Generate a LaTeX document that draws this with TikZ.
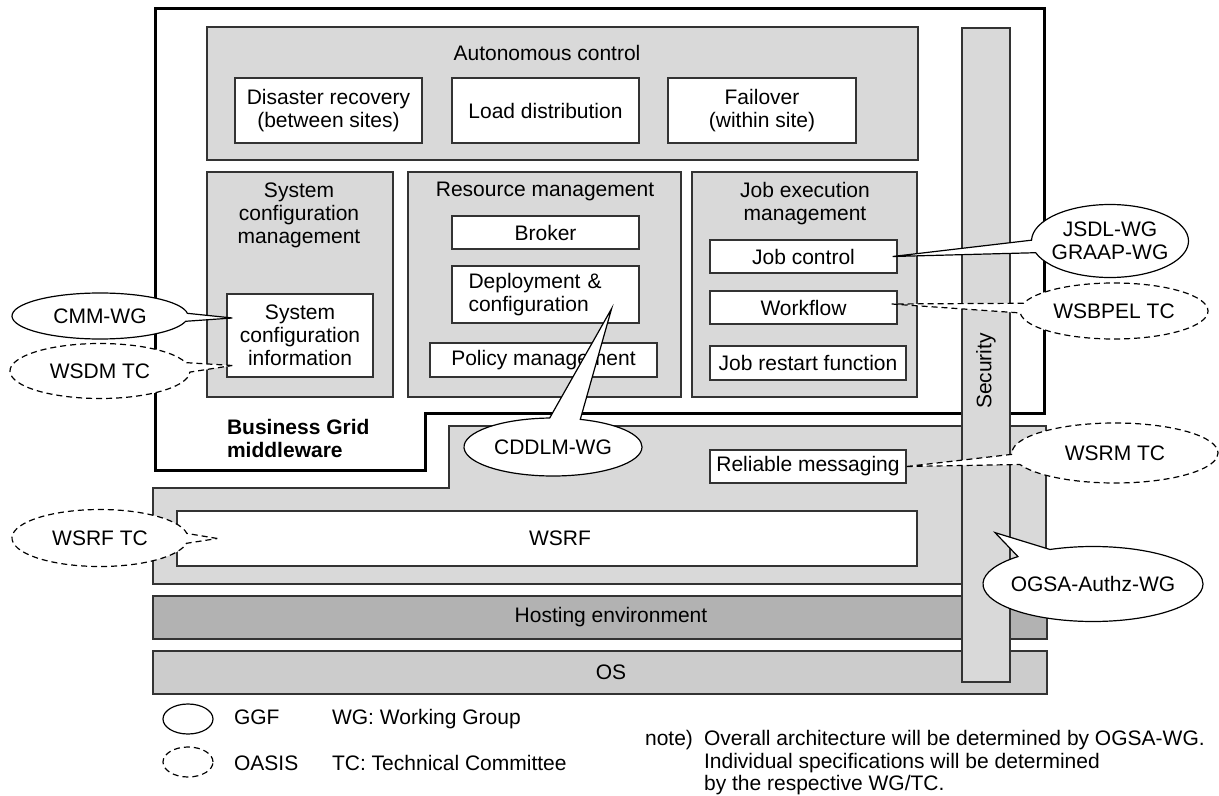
\documentclass[tikz,border=0pt]{standalone}
\usepackage{fontspec}
\setmainfont{Liberation Sans}
\usetikzlibrary{shapes.geometric,shapes.callouts}

\begin{document}
\begin{tikzpicture}[x=0.5pt, y=-0.5pt, font=\fontsize{10.5pt}{11.5pt}\selectfont,
    outline/.style={draw=black!80, line width=0.6pt},
    graybox/.style={outline, fill=black!15, inner sep=0pt},
    whitebox/.style={outline, fill=white, inner sep=0pt, align=center},
    ggf/.style={ellipse callout, outline, draw=black, fill=white, inner sep=0pt, callout pointer arc=20},
    oasis/.style={ggf, dash pattern=on 3pt off 2pt}]
    \useasboundingbox (0,0) rectangle (1219,796);
    \draw[graybox] (153,488) -- (449,488) -- (449,426) -- (1046,426) -- (1046,584) -- (153,584) -- cycle;
    \draw[line width=1.5pt] (155,9) -- (1044,9) -- (1044,413) -- (425,413) -- (425,470) -- (155,470) -- cycle;
    \node[graybox, minimum width=355.5pt, minimum height=66.5pt] (auto) at (562.5,93.5) {};
    \node (autotitle) at (547,53) {Autonomous control};
    \node[whitebox, minimum width=93.5pt, minimum height=32.5pt] (disaster) at (328.5,110.5) {Disaster recovery\\(between sites)};
    \node[whitebox, minimum width=93.5pt, minimum height=32.5pt] (load) at (545.5,110.5) {Load distribution};
    \node[whitebox, minimum width=94pt, minimum height=32.5pt] (failover) at (762,110.5) {Failover\\(within site)};
    \node[graybox, minimum width=93pt, minimum height=112.5pt] (sysmgmt) at (300,284.5) {};
    \node[align=center] (systitle) at (299,215) {System\\configuration\\management};
    \node[graybox, minimum width=136.5pt, minimum height=112.5pt] (resmgmt) at (544.5,284.5) {};
    \node (restitle) at (545,191) {Resource management};
    \node[graybox, minimum width=112.5pt, minimum height=112.5pt] (jobmgmt) at (804.5,284.5) {};
    \node[align=center] (jobtitle) at (805,203.5) {Job execution\\management};
    \node[whitebox, minimum width=73pt, minimum height=41.5pt] (sysinfo) at (300,335.5) {System\\configuration\\information};
    \node[whitebox, minimum width=93.5pt, minimum height=16.5pt] (broker) at (545.5,232.5) {Broker};
    \node[whitebox, minimum width=93.5pt, minimum height=28.5pt, text width=77pt, align=left] (deploy) at (545.5,294.5) {Deployment \&\\configuration};
    \node[whitebox, minimum width=113.5pt, minimum height=17pt] (policy) at (543.5,360) {Policy management};
    \node[whitebox, minimum width=93.5pt, minimum height=16.5pt] (jobctl) at (803.5,256.5) {Job control};
    \node[whitebox, minimum width=93.5pt, minimum height=16.5pt] (workflow) at (803.5,307.5) {Workflow};
    \node[whitebox, minimum width=98pt, minimum height=17pt] (restart) at (808,363) {Job restart function};
    \node[anchor=west, align=left, font=\bfseries\fontsize{10.5pt}{11.5pt}\selectfont] (bgm) at (220,438.5) {Business Grid\\middleware};
    \node[whitebox, minimum width=98pt, minimum height=16.5pt] (reliable) at (808,466.5) {Reliable messaging};
    \node[whitebox, minimum width=370pt, minimum height=27.5pt] (wsrf) at (547,538.5) {};
    \node (wsrftext) at (560,538.5) {WSRF};
    \node[graybox, fill=black!30, minimum width=447pt, minimum height=21.5pt] (hosting) at (600,617.5) {};
    \node (hostingtext) at (611,617.5) {Hosting environment};
    \node[graybox, fill=black!20, minimum width=447pt, minimum height=21.5pt] (os) at (600,672.5) {};
    \node (ostext) at (611,672.5) {OS};
    \node[graybox, minimum width=24pt, minimum height=327pt] (security) at (986,355) {};
    \node[rotate=90] (sectext) at (986,371) {Security};
    \node[ggf, minimum width=88pt, minimum height=23pt, callout absolute pointer={([xshift=3pt,yshift=8.75pt]sysinfo.west)}] (cmm) at (100,316) {CMM-WG};
    \node[oasis, minimum width=90pt, minimum height=27.5pt, callout absolute pointer={([xshift=3pt,yshift=-15pt]sysinfo.west)}] (wsdm) at (100,371) {WSDM TC};
    \node[ggf, minimum width=78.5pt, minimum height=36.5pt, inner xsep=-4pt, align=center, callout absolute pointer={([xshift=-2.5pt]jobctl.east)}] (jsdl) at (1110,241) {JSDL-WG\\GRAAP-WG};
    \node[oasis, minimum width=94pt, minimum height=28pt, callout absolute pointer={([xshift=-3pt,yshift=1.75pt]workflow.east)}] (wsbpel) at (1114,311) {WSBPEL TC};
    \node[oasis, minimum width=103pt, minimum height=30pt, callout absolute pointer={(reliable.east)}] (wsrm) at (1115,453) {WSRM TC};
    \node[ggf, minimum width=89pt, minimum height=29pt, callout absolute pointer={([xshift=-14pt,yshift=7.5pt]deploy.south east)}] (cddlm) at (553,447) {CDDLM-WG};
    \node[oasis, minimum width=88pt, minimum height=28.5pt, callout absolute pointer={([xshift=20.5pt]wsrf.west)}] (wsrftc) at (100,538) {WSRF TC};
    \node[ggf, minimum width=110pt, minimum height=37.5pt, inner xsep=-4pt, callout absolute pointer={([xshift=4.5pt,yshift=75pt]security.south)}] (ogsa) at (1093,584) {OGSA-Authz-WG};
    \node[ellipse, outline, draw=black, minimum width=25pt, minimum height=15pt] (ggfkey) at (188,719) {};
    \node[anchor=base west] (ggftext) at (227,724) {GGF};
    \node[anchor=base west] (wgtext) at (325,724) {WG: Working Group};
    \node[ellipse, outline, draw=black, dash pattern=on 3pt off 2pt, minimum width=25pt, minimum height=15pt] (oasiskey) at (188,762) {};
    \node[anchor=base west] (oasistext) at (227,770) {OASIS};
    \node[anchor=base west] (tctext) at (325,770) {TC: Technical Committee};
    \node[anchor=base west] (notelabel) at (638,745) {note)};
    \node[anchor=base west] (noteone) at (697,745) {Overall architecture will be determined by OGSA-WG.};
    \node[anchor=base west] (notetwo) at (697,768) {Individual specifications will be determined};
    \node[anchor=base west] (notethree) at (697,790) {by the respective WG/TC.};
\end{tikzpicture}
\end{document}
